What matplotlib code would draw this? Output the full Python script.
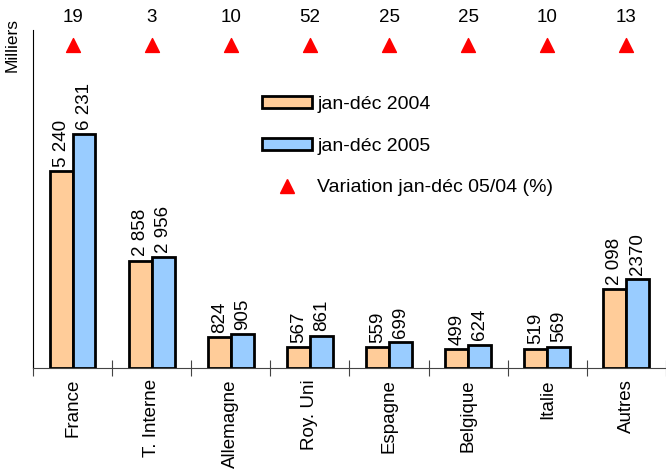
import numpy as np
import matplotlib.pyplot as plt
from matplotlib.patches import Patch
from matplotlib.lines import Line2D

plt.rcParams['font.family'] = ['Liberation Sans', 'DejaVu Sans']

# Données (milliers)
pays = ['France', 'T. Interne', 'Allemagne', 'Roy. Uni', 'Espagne', 'Belgique', 'Italie', 'Autres']
val_2004 = [5240, 2858, 824, 567, 559, 499, 519, 2098]
val_2005 = [6231, 2956, 905, 861, 699, 624, 569, 2370]
lab_2004 = ['5 240', '2 858', '824', '567', '559', '499', '519', '2 098']
lab_2005 = ['6 231', '2 956', '905', '861', '699', '624', '569', '2370']
variation = [19, 3, 10, 52, 25, 25, 10, 13]

orange = '#FFCC99'
bleu = '#99CCFF'
fs = 13.5

fig = plt.figure(figsize=(6.66, 4.73), dpi=100)
ax = fig.add_axes([0.0495, 0.222, 0.9505, 0.7146])

x = np.arange(len(pays))
w = 0.29
ax.bar(x - w / 2, val_2004, w, color=orange, edgecolor='black', linewidth=2, zorder=3)
ax.bar(x + w / 2, val_2005, w, color=bleu, edgecolor='black', linewidth=2, zorder=3)

# étiquettes verticales au-dessus des barres
for xi, v, t in zip(x - w / 2, val_2004, lab_2004):
    ax.annotate(t, (xi, v), xytext=(0, 3), textcoords='offset points',
                rotation=90, ha='center', va='bottom', fontsize=fs)
for xi, v, t in zip(x + w / 2, val_2005, lab_2005):
    ax.annotate(t, (xi, v), xytext=(0, 3), textcoords='offset points',
                rotation=90, ha='center', va='bottom', fontsize=fs)

# triangles de variation + pourcentages
y_tri = 8600
ax.scatter(x, [y_tri] * len(x), marker='^', s=100, color='red', zorder=4, clip_on=False)
for xi, v in zip(x, variation):
    ax.text(xi, 9340, str(v), ha='center', va='center', fontsize=fs, clip_on=False)

ax.set_xlim(-0.5, 7.5)
ax.set_ylim(0, 9000)
ax.set_xticks(np.arange(-0.5, 8, 1))
ax.set_xticklabels([])
ax.set_xticks(x, minor=True)
ax.set_xticklabels(pays, minor=True, rotation=90, fontsize=fs)
ax.tick_params(axis='x', which='major', direction='inout', length=12, color='#444444')
ax.tick_params(axis='x', which='minor', length=0, pad=8)
ax.set_yticks([])

for s in ['top', 'right']:
    ax.spines[s].set_visible(False)
ax.spines['bottom'].set_color('#444444')
ax.spines['left'].set_color('black')

fig.text(0.018, 0.962, 'Milliers', rotation=90, ha='center', va='top', fontsize=12.5)

handles = [
    Patch(facecolor=orange, edgecolor='black', linewidth=2),
    Patch(facecolor=bleu, edgecolor='black', linewidth=2),
    Line2D([], [], marker='^', color='red', linestyle='none', markersize=10),
]
labels = ['jan-déc 2004', 'jan-déc 2005', 'Variation jan-déc 05/04 (%)']
ax.legend(handles, labels, loc='upper left', bbox_to_anchor=(0.393, 0.797),
          bbox_transform=fig.transFigure, frameon=False, fontsize=14,
          borderaxespad=0, borderpad=0, handlelength=2.6, handleheight=0.57,
          handletextpad=0.26, labelspacing=1.27)

fig.savefig('out.png', dpi=100)
